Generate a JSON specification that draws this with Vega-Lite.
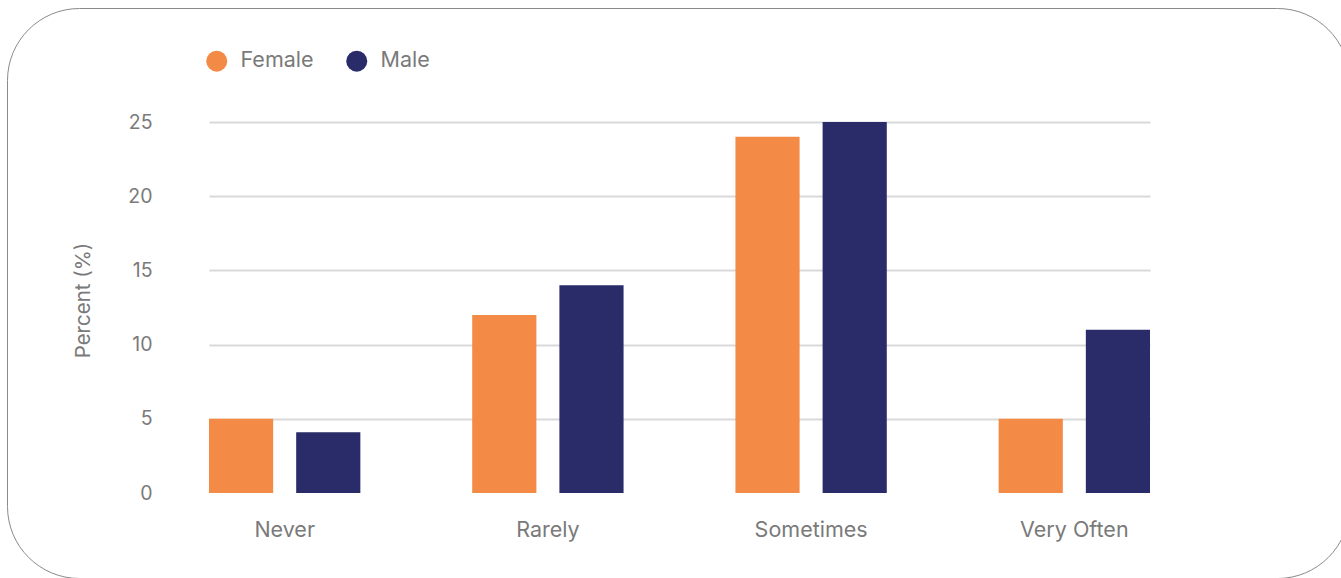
{
  "$schema": "https://vega.github.io/schema/vega-lite/v6.json",
  "width": 1342,
  "height": 570,
  "padding": {"left": 7, "top": 8, "right": 0, "bottom": 0},
  "autosize": {"type": "none"},
  "background": "white",
  "config": {
    "view": {"stroke": "#8a8a8a", "strokeWidth": 1, "cornerRadius": 72},
    "font": "Inter",
    "axis": {"labelFont": "Inter", "titleFont": "Inter", "labelColor": "#7a7a7a", "titleColor": "#7a7a7a"}
  },
  "data": {
    "values": [
      {"freq": "Never", "gender": "Female", "pct": 5},
      {"freq": "Never", "gender": "Male", "pct": 4.1},
      {"freq": "Rarely", "gender": "Female", "pct": 12},
      {"freq": "Rarely", "gender": "Male", "pct": 14},
      {"freq": "Sometimes", "gender": "Female", "pct": 24},
      {"freq": "Sometimes", "gender": "Male", "pct": 25},
      {"freq": "Very Often", "gender": "Female", "pct": 5},
      {"freq": "Very Often", "gender": "Male", "pct": 11}
    ]
  },
  "mark": {"type": "bar"},
  "encoding": {
    "x": {
      "field": "freq",
      "type": "nominal",
      "sort": ["Never", "Rarely", "Sometimes", "Very Often"],
      "scale": {"range": [202, 1143], "paddingInner": 0.425, "paddingOuter": 0},
      "axis": {
        "title": null,
        "labelAngle": 0,
        "domain": false,
        "ticks": false,
        "tickSize": 0,
        "labelPadding": 0,
        "labelBaseline": "middle",
        "labelFontSize": 21.5,
        "offset": -48,
        "grid": false
      }
    },
    "xOffset": {
      "field": "gender",
      "type": "nominal",
      "scale": {"paddingInner": 0.264, "paddingOuter": 0}
    },
    "y": {
      "field": "pct",
      "type": "quantitative",
      "scale": {"domain": [0, 25], "range": [485, 114], "nice": false},
      "axis": {
        "title": "Percent (%)",
        "values": [0, 5, 10, 15, 20, 25],
        "domain": false,
        "ticks": false,
        "tickSize": 0,
        "labelPadding": 0,
        "labelFontSize": 19.5,
        "offset": -145,
        "grid": true,
        "gridColor": "#d9d9d9",
        "gridWidth": 2,
        "gridOpacity": {"condition": {"test": "datum.value === 0", "value": 0}, "value": 1},
        "titleFontSize": 20.5,
        "titleFontWeight": "normal",
        "titleX": -69,
        "titleY": 292,
        "titleBaseline": "middle",
        "titleAlign": "center",
        "titleAngle": -90
      }
    },
    "color": {
      "field": "gender",
      "type": "nominal",
      "scale": {"domain": ["Female", "Male"], "range": ["#F38A45", "#2A2B69"]},
      "legend": {
        "title": null,
        "orient": "none",
        "direction": "horizontal",
        "legendX": 199,
        "legendY": 42,
        "symbolType": "circle",
        "symbolSize": 441,
        "symbolStrokeWidth": 0,
        "labelFontSize": 21.5,
        "labelColor": "#7a7a7a",
        "labelFont": "Inter",
        "labelOffset": 13,
        "columnPadding": 32,
        "padding": 0
      }
    }
  }
}
